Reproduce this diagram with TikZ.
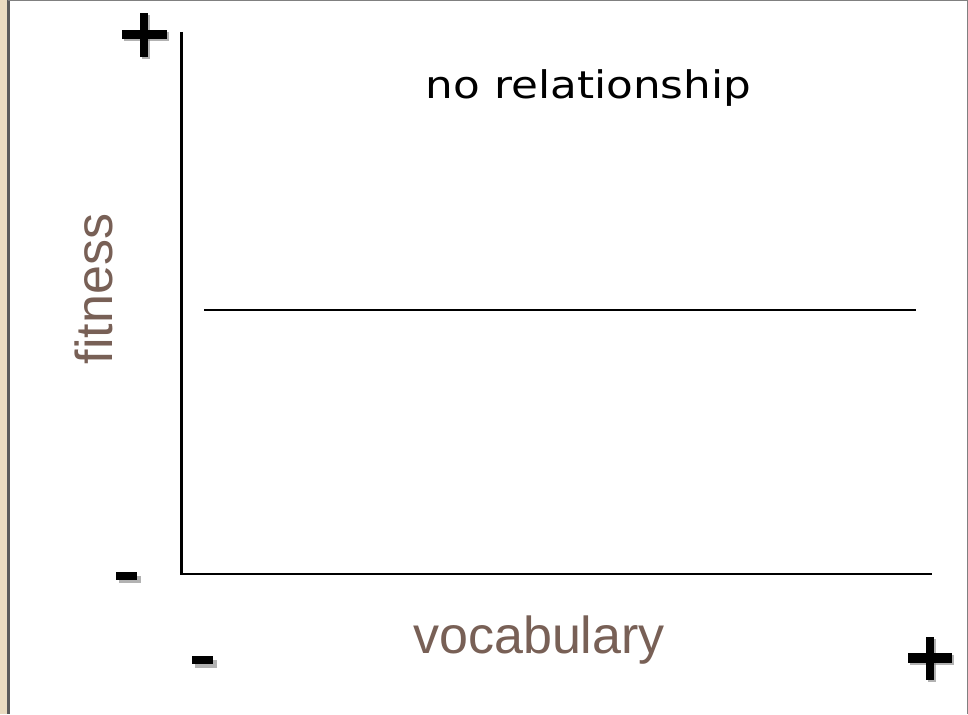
\documentclass[tikz,border=0pt]{standalone}
\usepackage{fontspec}
\setmainfont{Liberation Sans}
\newfontfamily\titlefont{DejaVu Sans}
\definecolor{labelbrown}{RGB}{120,96,86}
\definecolor{stripTan}{RGB}{234,219,192}
\definecolor{edgegray}{RGB}{90,90,90}
\tikzset{
  axisline/.style={line width=2.2pt, black},
  flatline/.style={line width=2pt, black},
  axislabel/.style={text=labelbrown, font=\fontsize{52}{60}\selectfont, inner sep=0pt},
  signbar/.style={fill=black, draw=none},
  signshadow/.style={fill=black!50, draw=none, opacity=0.6},
}
\begin{document}
\begin{tikzpicture}[x=1pt,y=-1pt]
\useasboundingbox (0,0) rectangle (968,714);
\fill[white] (0,0) rectangle (968,714);
% frame
\fill[stripTan] (0,0) rectangle (7,714);
\fill[edgegray] (7,0) rectangle (9.5,714);
\draw[gray, line width=1.5pt] (8,0.75) -- (967.25,0.75) -- (967.25,714);
% axes
\coordinate (top) at (181.5,32);
\coordinate (origin) at (181.5,574);
\coordinate (xend) at (932,574);
\draw[axisline] (top) -- (origin) -- (xend);
% flat line
\coordinate (fl) at (204,310);
\coordinate (fr) at (916,310);
\draw[flatline] (fl) -- (fr);
% plus top-left
\fill[signshadow] (124,32.5) rectangle (169,41.5);
\fill[signshadow] (142,15) rectangle (150,59);
\fill[signbar] (122,30.5) rectangle (167,39.5);
\fill[signbar] (140,13) rectangle (148,57);
% plus bottom-right
\fill[signshadow] (910,655) rectangle (954,665);
\fill[signshadow] (928,639) rectangle (936,682);
\fill[signbar] (908,653) rectangle (952,663);
\fill[signbar] (926,637) rectangle (934,680);
% minus left
\fill[signshadow] (119,575.5) rectangle (141,583);
\fill[signbar] (116,572) rectangle (137,579.5);
% minus bottom
\fill[signshadow] (195,659.5) rectangle (217,667.5);
\fill[signbar] (192,656) rectangle (213,664);
% labels
\node[axislabel, rotate=90, anchor=base] (ylab) at (112,289) {fitness};
\node[axislabel, anchor=base] (xlab) at (539,653) {vocabulary};
\node[inner sep=0pt, anchor=base, xscale=1.15, font=\titlefont\fontsize{38}{44}\selectfont] (title) at (588.5,99) {no relationship};
\end{tikzpicture}
\end{document}
